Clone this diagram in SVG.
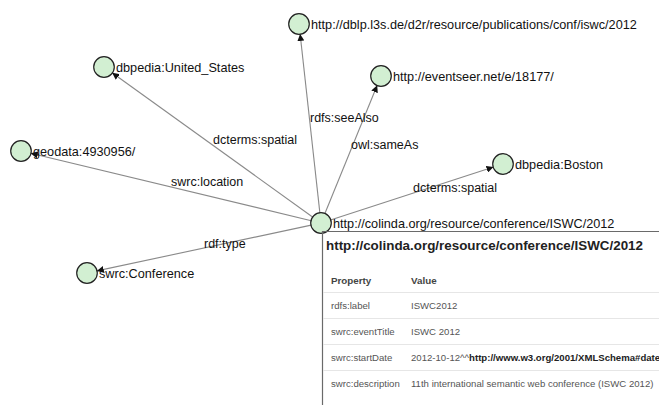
<svg xmlns="http://www.w3.org/2000/svg" width="659" height="405" viewBox="0 0 659 405">
  <style>
    text { font-family: "Liberation Sans", Arial, sans-serif; fill: #111; }
    .node circle { fill: #d2efd2; stroke: #222; stroke-width: 1.2; }
    .node text { font-size: 12.7px; }
    .edge { stroke: #8a8a8a; stroke-width: 1.1; fill: none; marker-end: url(#arrow); }
    .elabel { font-size: 12.5px; }
    .title { font-size: 13.4px; font-weight: bold; fill: #222; }
    .th { font-size: 9.8px; font-weight: bold; fill: #444; }
    .td { font-size: 9.6px; fill: #555; }
    .sep { stroke: #e6e6e6; stroke-width: 1; }
    .frame { stroke: #6a6a6a; stroke-width: 1.2; }
  </style>
  <defs>
    <marker id="arrow" markerUnits="userSpaceOnUse" markerWidth="8" markerHeight="7" refX="7" refY="3.5" orient="auto">
      <path d="M0,0 L7,3.5 L0,7 z" fill="#111"/>
    </marker>
  </defs>
  <rect width="659" height="405" fill="#fff"/>

  <!-- connectors from the conference resource -->
  <g id="edges">
    <line class="edge" x1="319.9" y1="213.1" x2="300.1" y2="33.9"/>
    <line class="edge" x1="324.8" y1="213.7" x2="377.2" y2="85.3"/>
    <line class="edge" x1="330.5" y1="219.9" x2="493.5" y2="167.1"/>
    <line class="edge" x1="312.9" y1="217.2" x2="112.1" y2="72.8"/>
    <line class="edge" x1="311.3" y1="220.7" x2="30.7" y2="153.3"/>
    <line class="edge" x1="311.2" y1="225.1" x2="96.8" y2="270.9"/>
    <text class="elabel" x="310" y="122">rdfs:seeAlso</text>
    <text class="elabel" x="351" y="149">owl:sameAs</text>
    <text class="elabel" x="213" y="144">dcterms:spatial</text>
    <text class="elabel" x="171" y="186">swrc:location</text>
    <text class="elabel" x="413" y="192">dcterms:spatial</text>
    <text class="elabel" x="204" y="248">rdf:type</text>
  </g>

  <g id="n-dblp" class="node">
    <circle cx="299" cy="24" r="10.3"/>
    <text x="311" y="29">http://dblp.l3s.de/d2r/resource/publications/conf/iswc/2012</text>
  </g>
  <g id="n-eventseer" class="node">
    <circle cx="381" cy="76" r="10.3"/>
    <text x="393" y="81">http://eventseer.net/e/18177/</text>
  </g>
  <g id="n-boston" class="node">
    <circle cx="503" cy="164" r="10.3"/>
    <text x="515" y="169">dbpedia:Boston</text>
  </g>
  <g id="n-us" class="node">
    <circle cx="104" cy="67" r="10.3"/>
    <text x="116" y="72">dbpedia:United_States</text>
  </g>
  <g id="n-geodata" class="node">
    <circle cx="21" cy="151" r="10.3"/>
    <text x="33" y="156">geodata:4930956/</text>
  </g>
  <g id="n-conference" class="node">
    <circle cx="87" cy="273" r="10.3"/>
    <text x="99" y="278">swrc:Conference</text>
  </g>
  <g id="n-iswc" class="node">
    <circle cx="321" cy="223" r="10.3"/>
    <text x="333" y="228">http://colinda.org/resource/conference/ISWC/2012</text>
  </g>

  <!-- property panel -->
  <g id="panel">
    <line class="frame" x1="322" y1="231.5" x2="659" y2="231.5"/>
    <line class="frame" x1="322.5" y1="231" x2="322.5" y2="405"/>
    <text class="title" x="326" y="250">http://colinda.org/resource/conference/ISWC/2012</text>
    <text class="th" x="331" y="284">Property</text>
    <text class="th" x="411" y="284">Value</text>
    <line class="sep" x1="323" y1="292.5" x2="659" y2="292.5"/>
    <text class="td" x="331" y="309">rdfs:label</text>
    <text class="td" x="411" y="309">ISWC2012</text>
    <line class="sep" x1="323" y1="318.5" x2="659" y2="318.5"/>
    <text class="td" x="331" y="335">swrc:eventTitle</text>
    <text class="td" x="411" y="335">ISWC 2012</text>
    <line class="sep" x1="323" y1="344.5" x2="659" y2="344.5"/>
    <text class="td" x="331" y="361">swrc:startDate</text>
    <text class="td" x="411" y="361">2012-10-12^^<tspan font-weight="bold" fill="#222">http://www.w3.org/2001/XMLSchema#date</tspan></text>
    <line class="sep" x1="323" y1="370.5" x2="659" y2="370.5"/>
    <text class="td" x="331" y="387">swrc:description</text>
    <text class="td" x="411" y="387">11th international semantic web conference (ISWC 2012)</text>
  </g>
</svg>
